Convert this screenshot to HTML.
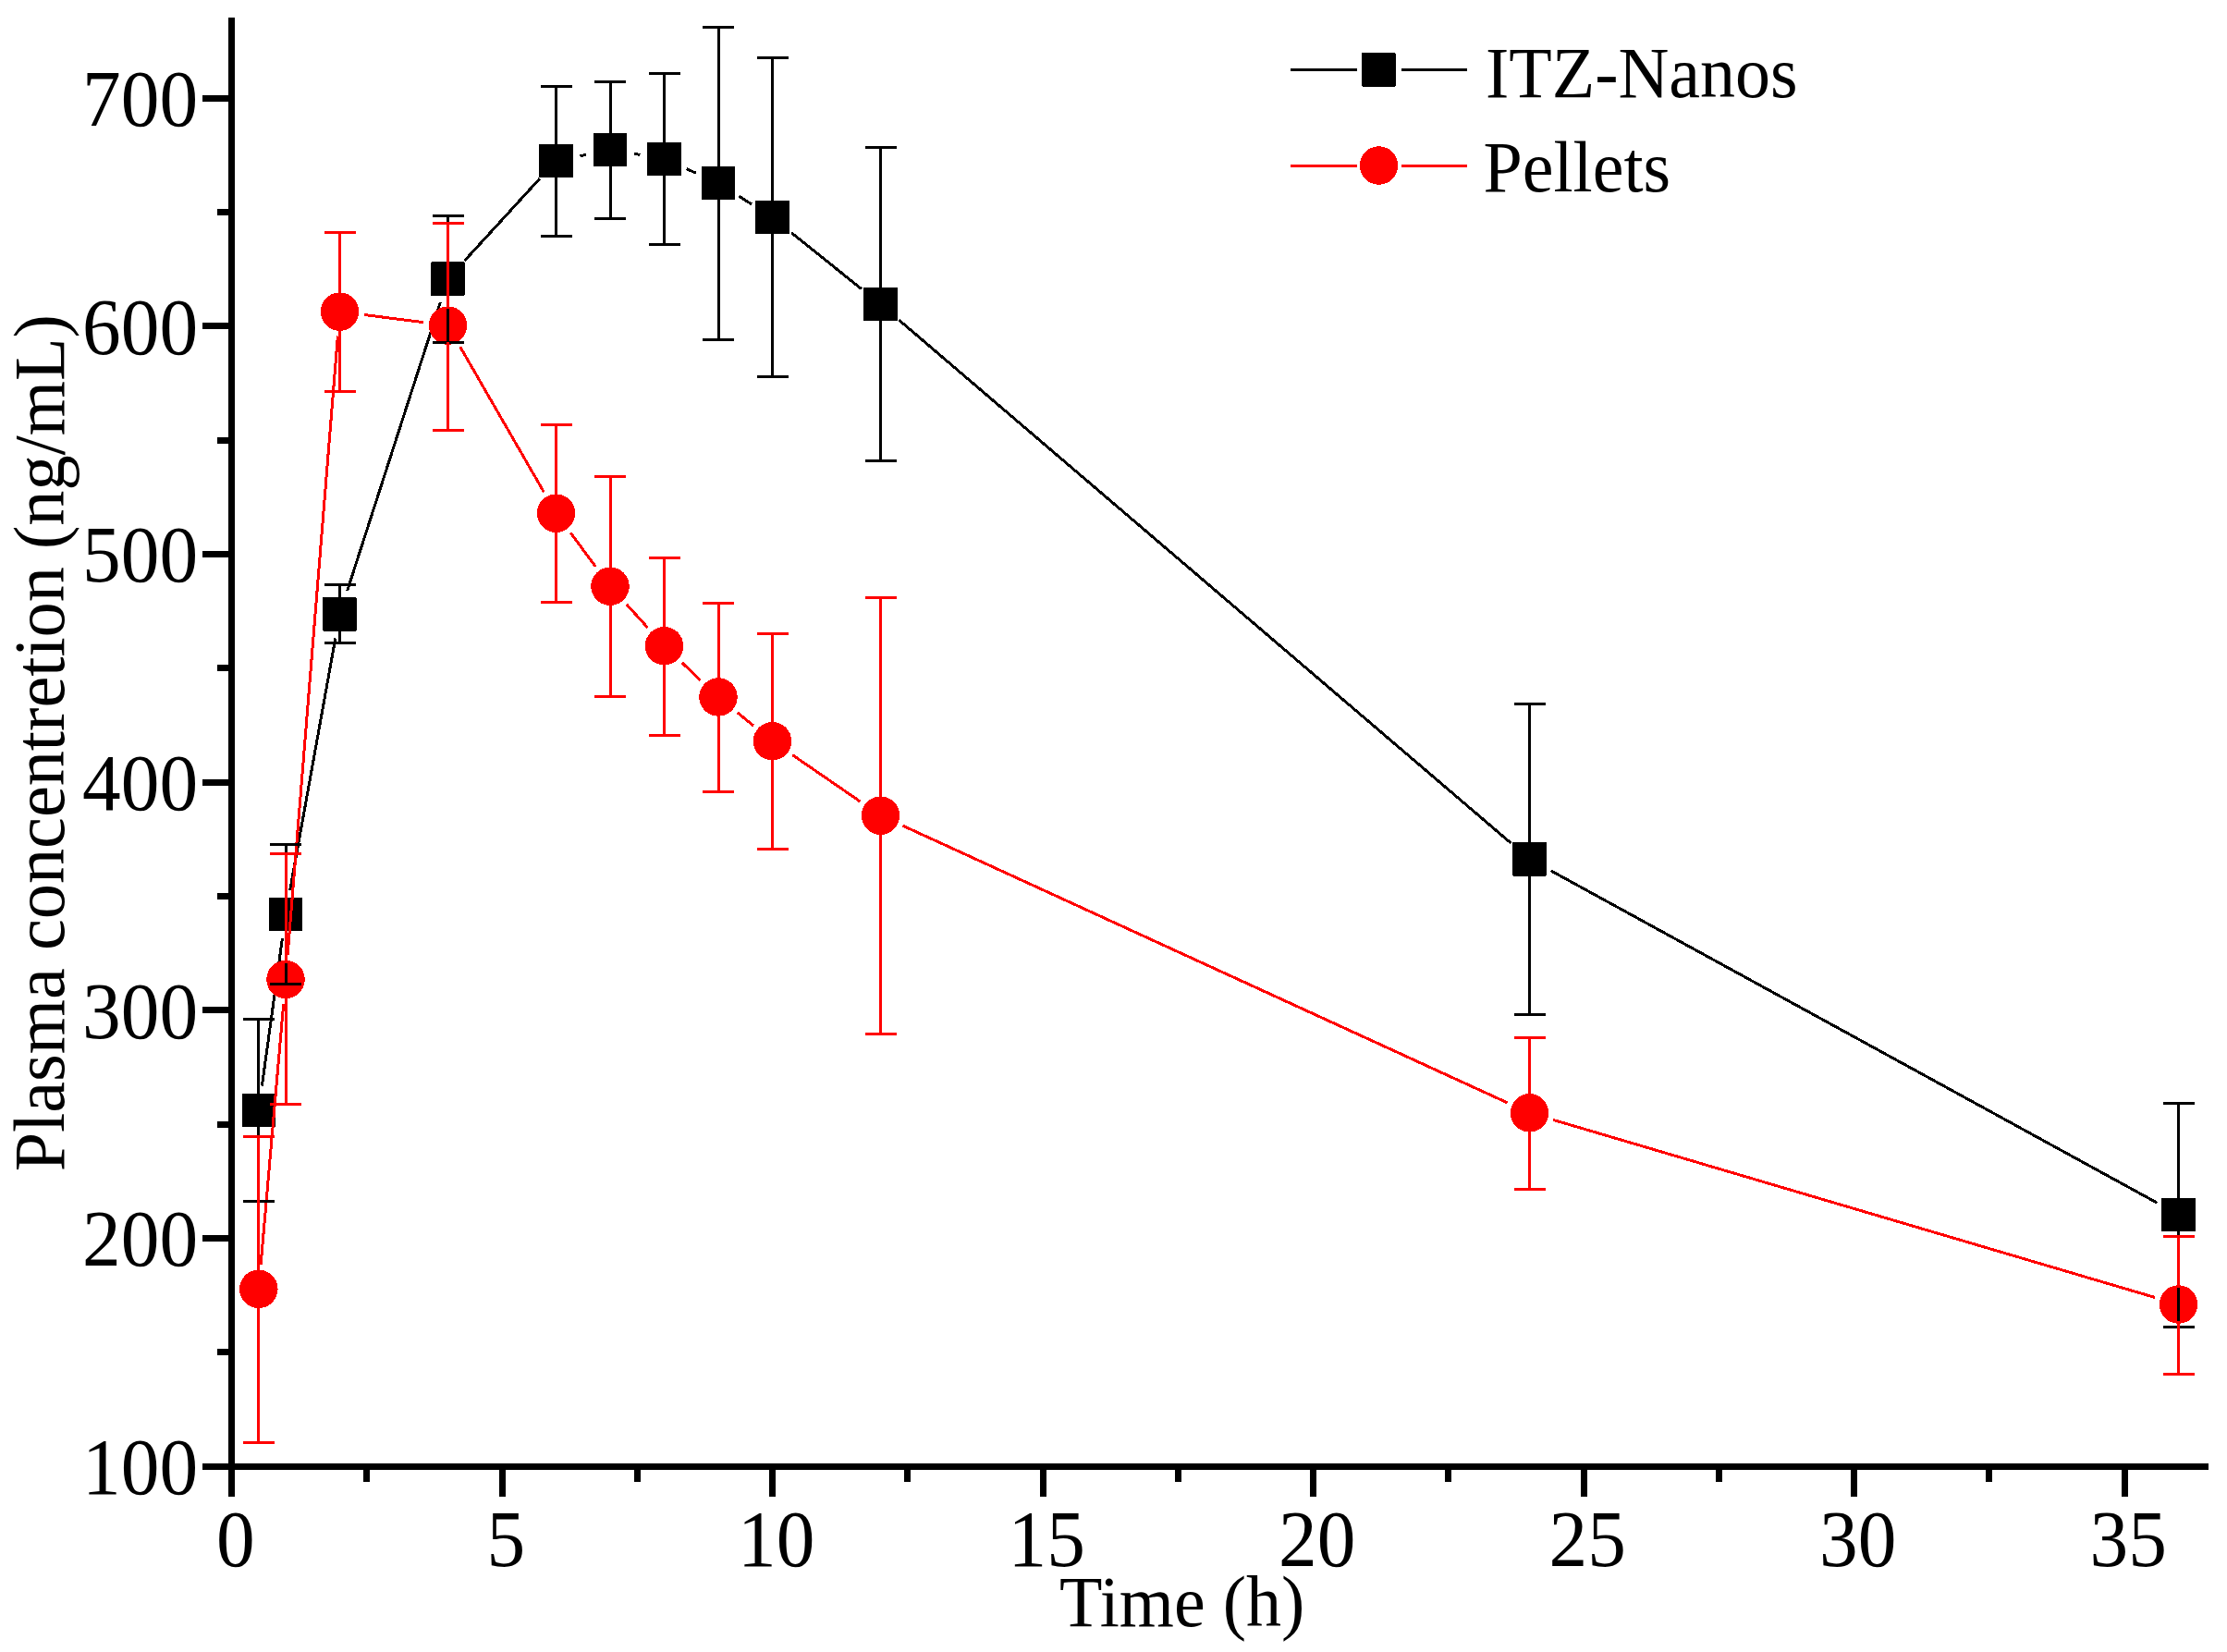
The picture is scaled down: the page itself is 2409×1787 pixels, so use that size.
<!DOCTYPE html>
<html lang="en"><head><meta charset="utf-8"><title>Plasma concentration vs time</title>
<style>
html,body{margin:0;padding:0;background:#fff;}
body{width:2409px;height:1787px;overflow:hidden;}
svg{display:block;}
</style></head><body>
<svg width="2409" height="1787" viewBox="0 0 2409 1787" shape-rendering="crispEdges">
<rect width="2409" height="1787" fill="#fff"/>
<g id="axes" fill="#000">
<rect x="247" y="19" width="7" height="1600"/>
<rect x="219" y="1583" width="2170" height="7"/>
<rect x="235" y="1459" width="14" height="7"/>
<rect x="219" y="1336" width="30" height="7"/>
<rect x="235" y="1213" width="14" height="7"/>
<rect x="219" y="1089" width="30" height="7"/>
<rect x="235" y="966" width="14" height="7"/>
<rect x="219" y="843" width="30" height="7"/>
<rect x="235" y="719" width="14" height="7"/>
<rect x="219" y="596" width="30" height="7"/>
<rect x="235" y="473" width="14" height="7"/>
<rect x="219" y="349" width="30" height="7"/>
<rect x="235" y="226" width="14" height="7"/>
<rect x="219" y="103" width="30" height="7"/>
<rect x="393" y="1586" width="7" height="17"/>
<rect x="540" y="1586" width="7" height="33"/>
<rect x="686" y="1586" width="7" height="17"/>
<rect x="832" y="1586" width="7" height="33"/>
<rect x="978" y="1586" width="7" height="17"/>
<rect x="1125" y="1586" width="7" height="33"/>
<rect x="1271" y="1586" width="7" height="17"/>
<rect x="1417" y="1586" width="7" height="33"/>
<rect x="1563" y="1586" width="7" height="17"/>
<rect x="1710" y="1586" width="7" height="33"/>
<rect x="1856" y="1586" width="7" height="17"/>
<rect x="2002" y="1586" width="7" height="33"/>
<rect x="2148" y="1586" width="7" height="17"/>
<rect x="2295" y="1586" width="7" height="33"/>
</g>
<g id="series">
<path d="M283.4 1174.5L305.4 1015.3M313.7 962.9L362.8 690.5M375.6 639.2L476.4 326.9M502.4 282.2L583.6 193.5M627.5 168.7L634.0 167.3M686.1 166.4L692.4 167.4M742.7 182.6L752.8 187.2M799.4 212.2L813.1 221.0M856.2 251.8L931.8 312.5M972.6 346.3L1634.4 912.0M1677.7 941.9L2333.3 1301.1" stroke="#000" stroke-width="3" fill="none" stroke-linecap="butt"/>
<rect x="261.5" y="1182.5" width="36.5" height="36.5" rx="1" fill="#000"/>
<rect x="290.8" y="970.8" width="36.5" height="36.5" rx="1" fill="#000"/>
<rect x="349.2" y="646.1" width="36.5" height="36.5" rx="1" fill="#000"/>
<rect x="466.2" y="283.4" width="36.5" height="36.5" rx="1" fill="#000"/>
<rect x="583.2" y="155.8" width="36.5" height="36.5" rx="1" fill="#000"/>
<rect x="641.8" y="143.8" width="36.5" height="36.5" rx="1" fill="#000"/>
<rect x="700.2" y="153.6" width="36.5" height="36.5" rx="1" fill="#000"/>
<rect x="758.8" y="179.8" width="36.5" height="36.5" rx="1" fill="#000"/>
<rect x="817.2" y="216.9" width="36.5" height="36.5" rx="1" fill="#000"/>
<rect x="934.2" y="310.9" width="36.5" height="36.5" rx="1" fill="#000"/>
<rect x="1636.2" y="911.0" width="36.5" height="36.5" rx="1" fill="#000"/>
<rect x="2338.2" y="1295.5" width="36.5" height="36.5" rx="1" fill="#000"/>
<path d="M282.1 1367.9L306.7 1085.9M311.1 1033.1L365.4 363.5M393.8 340.5L458.2 348.7M497.7 375.1L588.3 532.2M617.3 576.5L644.2 612.9M677.8 653.8L700.7 679.1M737.8 716.9L757.7 735.8M797.5 770.7L815.0 785.0M857.3 816.7L930.7 867.2M976.6 893.2L1630.4 1192.8M1679.9 1211.3L2331.1 1403.5" stroke="#f00" stroke-width="3" fill="none" stroke-linecap="butt"/>
<circle cx="279.8" cy="1394.3" r="20.75" fill="#f00"/>
<circle cx="309.0" cy="1059.5" r="20.75" fill="#f00"/>
<circle cx="367.5" cy="337.1" r="20.75" fill="#f00"/>
<circle cx="484.5" cy="352.1" r="20.75" fill="#f00"/>
<circle cx="601.5" cy="555.2" r="20.75" fill="#f00"/>
<circle cx="660.0" cy="634.2" r="20.75" fill="#f00"/>
<circle cx="718.5" cy="698.7" r="20.75" fill="#f00"/>
<circle cx="777.0" cy="754.0" r="20.75" fill="#f00"/>
<circle cx="835.5" cy="801.7" r="20.75" fill="#f00"/>
<circle cx="952.5" cy="882.2" r="20.75" fill="#f00"/>
<circle cx="1654.5" cy="1203.8" r="20.75" fill="#f00"/>
<circle cx="2356.5" cy="1411.0" r="20.75" fill="#f00"/>
<path d="M279.8 1102.4V1183.5M279.8 1218.0V1299.3M262.8 1102.4h34M262.8 1299.3h34M309.0 913.4V971.8M309.0 1006.2V1064.0M292.0 913.4h34M292.0 1064.0h34M367.5 632.5V647.1M367.5 681.6V695.6M350.5 632.5h34M350.5 695.6h34M484.5 233.4V284.4M484.5 318.9V370.4M467.5 233.4h34M467.5 370.4h34M601.5 93.4V156.8M601.5 191.2V255.4M584.5 93.4h34M584.5 255.4h34M660.0 88.0V144.8M660.0 179.2V236.4M643.0 88.0h34M643.0 236.4h34M718.5 79.8V154.6M718.5 189.1V264.2M701.5 79.8h34M701.5 264.2h34M777.0 29.0V180.8M777.0 215.2V367.6M760.0 29.0h34M760.0 367.6h34M835.5 62.9V217.9M835.5 252.4V407.5M818.5 62.9h34M818.5 407.5h34M952.5 159.3V311.9M952.5 346.4V498.3M935.5 159.3h34M935.5 498.3h34M1654.5 761.5V912.0M1654.5 946.5V1097.6M1637.5 761.5h34M1637.5 1097.6h34M2356.5 1193.4V1296.5M2356.5 1331.0V1435.5M2339.5 1193.4h34M2339.5 1435.5h34" stroke="#000" stroke-width="3" fill="none"/>
<path d="M279.8 1229.5V1376.5M279.8 1412.0V1560.3M262.8 1229.5h34M262.8 1560.3h34M309.0 923.8V1041.8M309.0 1077.2V1194.2M292.0 923.8h34M292.0 1194.2h34M367.5 251.0V319.4M367.5 354.9V423.6M350.5 251.0h34M350.5 423.6h34M484.5 241.0V334.4M484.5 369.9V465.6M467.5 241.0h34M467.5 465.6h34M601.5 459.1V537.5M601.5 573.0V651.6M584.5 459.1h34M584.5 651.6h34M660.0 515.7V616.5M660.0 652.0V753.5M643.0 515.7h34M643.0 753.5h34M718.5 603.4V681.0M718.5 716.5V795.2M701.5 603.4h34M701.5 795.2h34M777.0 652.7V736.2M777.0 771.8V856.4M760.0 652.7h34M760.0 856.4h34M835.5 685.4V784.0M835.5 819.5V918.5M818.5 685.4h34M818.5 918.5h34M952.5 646.5V864.5M952.5 900.0V1118.1M935.5 646.5h34M935.5 1118.1h34M1654.5 1122.8V1186.0M1654.5 1221.5V1286.0M1637.5 1122.8h34M1637.5 1286.0h34M2356.5 1337.5V1393.2M2356.5 1428.8V1486.2M2339.5 1337.5h34M2339.5 1486.2h34" stroke="#f00" stroke-width="3" fill="none"/>
</g>
<g id="legend">
<path d="M1396 75H1468M1515.5 75H1587" stroke="#000" stroke-width="3"/>
<rect x="1473" y="57" width="36.5" height="36.5" rx="1" fill="#000"/>
<path d="M1396 179H1468M1515.5 179H1587" stroke="#f00" stroke-width="3"/>
<circle cx="1491.5" cy="179" r="20.75" fill="#f00"/>
</g>
<g id="labels" font-family="'Liberation Serif', 'Times New Roman', serif" fill="#000">
<g font-size="83.4" text-anchor="end">
<text transform="translate(214.2 1616.1) scale(1 1.035)">100</text>
<text transform="translate(214.2 1369.4) scale(1 1.035)">200</text>
<text transform="translate(214.2 1122.8) scale(1 1.035)">300</text>
<text transform="translate(214.2 876.1) scale(1 1.035)">400</text>
<text transform="translate(214.2 629.4) scale(1 1.035)">500</text>
<text transform="translate(214.2 382.8) scale(1 1.035)">600</text>
<text transform="translate(214.2 136.1) scale(1 1.035)">700</text>
</g>
<g font-size="83.4" text-anchor="middle">
<text transform="translate(254.8 1693.6) scale(1 1.035)">0</text>
<text transform="translate(547.3 1693.6) scale(1 1.035)">5</text>
<text transform="translate(839.8 1693.6) scale(1 1.035)">10</text>
<text transform="translate(1132.3 1693.6) scale(1 1.035)">15</text>
<text transform="translate(1424.8 1693.6) scale(1 1.035)">20</text>
<text transform="translate(1717.3 1693.6) scale(1 1.035)">25</text>
<text transform="translate(2009.8 1693.6) scale(1 1.035)">30</text>
<text transform="translate(2302.3 1693.6) scale(1 1.035)">35</text>
</g>
<g font-size="76">
<text transform="translate(1607.0 105.0) scale(1 1.02)">ITZ-Nanos</text>
<text transform="translate(1604.5 206.6) scale(1 1.02)">Pellets</text>
<text transform="translate(1146.0 1759.3) scale(1 1.02)">Time (h)</text>
<text transform="translate(68.8 1267.3) rotate(-90) scale(1 1.02)" font-size="76.25">Plasma concentretion (ng/mL)</text>
</g>
</g>
</svg>
</body></html>
